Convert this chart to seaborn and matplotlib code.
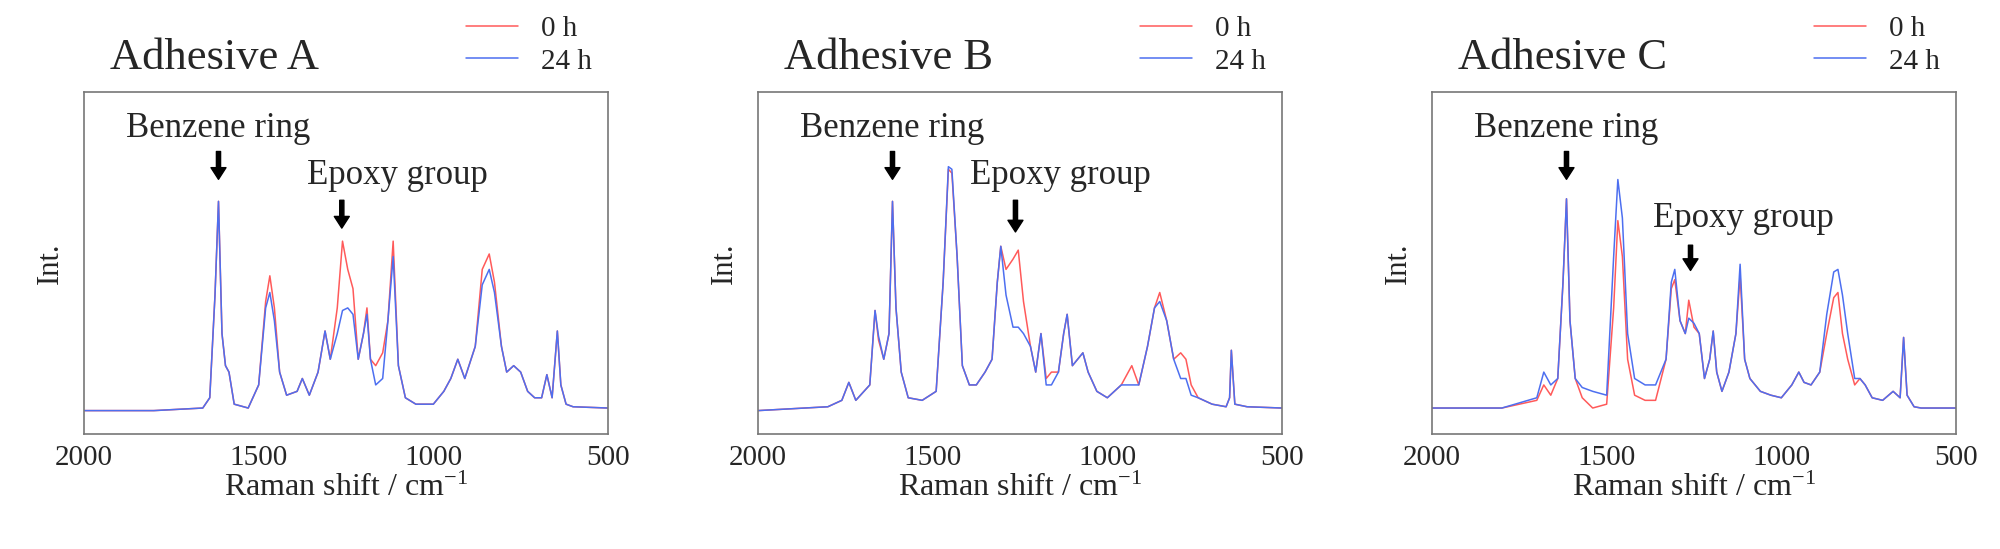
import pandas as pd
import matplotlib.pyplot as plt
import seaborn as sns

# === Data (intensity in arbitrary units) ===
shift_a = [2000, 1800, 1660, 1640, 1625, 1615, 1605, 1595, 1585, 1570, 1530, 1500, 1480, 1468, 1455, 1440,
           1420, 1390, 1375, 1355, 1330, 1310, 1295, 1275, 1260, 1245, 1230, 1215, 1200, 1190, 1180, 1165,
           1145, 1130, 1115, 1100, 1080, 1050, 1000, 970, 950, 930, 910, 880, 860, 840, 825, 805, 790, 770,
           750, 730, 710, 690, 675, 660, 645, 635, 620, 600, 500]
a_0h = [0, 0, 2, 10, 90, 163, 60, 35, 30, 5, 2, 20, 85, 105, 80, 30,
        12, 15, 25, 12, 30, 62, 40, 80, 132, 110, 95, 40, 60, 80, 40, 35,
        45, 70, 132, 35, 10, 5, 5, 15, 25, 40, 25, 50, 110, 122, 100, 50, 30, 35,
        30, 15, 10, 10, 28, 10, 62, 20, 5, 3, 2]
a_24h = [0, 0, 2, 10, 90, 163, 60, 35, 30, 5, 2, 20, 80, 92, 70, 30,
         12, 15, 25, 12, 30, 62, 40, 60, 78, 80, 75, 40, 60, 75, 40, 20,
         25, 70, 120, 35, 10, 5, 5, 15, 25, 40, 25, 50, 98, 110, 92, 50, 30, 35,
         30, 15, 10, 10, 28, 10, 62, 20, 5, 3, 2]

shift_b = [2000, 1800, 1760, 1740, 1720, 1680, 1665, 1655, 1640, 1625, 1615, 1605, 1590, 1570, 1530, 1490,
           1470, 1455, 1445, 1430, 1415, 1395, 1375, 1350, 1330, 1315, 1305, 1290, 1270, 1255, 1240, 1220,
           1205, 1190, 1175, 1160, 1140, 1125, 1115, 1100, 1085, 1070, 1055, 1030, 1000, 960, 930, 910,
           885, 865, 850, 830, 810, 790, 775, 760, 740, 700, 660, 650, 645, 635, 600, 500]
b_0h = [0, 3, 8, 22, 8, 20, 78, 55, 40, 60, 163, 80, 30, 10, 8, 15,
        100, 188, 185, 120, 35, 20, 20, 30, 40, 100, 128, 110, 118, 125, 85, 50,
        30, 60, 25, 30, 30, 60, 75, 35, 40, 45, 30, 15, 10, 20, 35, 20,
        50, 80, 92, 70, 40, 45, 40, 20, 10, 5, 3, 10, 47, 5, 3, 2]
b_24h = [0, 3, 8, 22, 8, 20, 78, 58, 40, 60, 163, 80, 30, 10, 8, 15,
         100, 190, 188, 120, 35, 20, 20, 30, 40, 100, 128, 90, 65, 65, 60, 50,
         30, 60, 20, 20, 30, 60, 75, 35, 40, 45, 30, 15, 10, 20, 20, 20,
         50, 80, 85, 70, 40, 25, 25, 12, 10, 5, 3, 10, 47, 5, 3, 2]

shift_c = [2000, 1800, 1700, 1680, 1660, 1640, 1625, 1615, 1605, 1590, 1570, 1540, 1500, 1480, 1468, 1455,
           1440, 1420, 1390, 1360, 1330, 1315, 1305, 1290, 1275, 1265, 1250, 1235, 1220, 1205, 1195, 1185,
           1170, 1150, 1130, 1118, 1105, 1090, 1060, 1030, 1000, 970, 950, 935, 915, 890, 870, 850, 838,
           825, 810, 790, 775, 760, 740, 710, 680, 660, 650, 640, 620, 600, 500]
c_0h = [2, 2, 8, 20, 12, 25, 100, 165, 70, 25, 10, 2, 5, 80, 148, 120,
        40, 12, 8, 8, 40, 95, 102, 70, 60, 86, 65, 60, 25, 40, 62, 30,
        15, 30, 60, 105, 40, 25, 15, 12, 10, 20, 30, 22, 20, 30, 60, 88, 92,
        60, 40, 20, 25, 20, 10, 8, 15, 10, 57, 12, 3, 2, 2]
c_24h = [2, 2, 10, 30, 20, 25, 100, 165, 70, 25, 18, 15, 12, 120, 180, 150,
         60, 25, 20, 20, 40, 100, 110, 70, 60, 72, 68, 60, 25, 40, 62, 30,
         15, 30, 60, 114, 40, 25, 15, 12, 10, 20, 30, 22, 20, 30, 75, 108, 110,
         90, 60, 25, 25, 20, 10, 8, 15, 10, 57, 12, 3, 2, 2]

# (arrow x, arrow tip, arrow tail, label, label x, label y)
panels = [
    ("Adhesive A", shift_a, a_0h, a_24h, [(1615, 178, 204, "Benzene ring", 1615, 220),
                                          (1262, 140, 166, "Epoxy group", 1102, 183)]),
    ("Adhesive B", shift_b, b_0h, b_24h, [(1615, 178, 204, "Benzene ring", 1615, 220),
                                          (1263, 137, 166, "Epoxy group", 1135, 183)]),
    ("Adhesive C", shift_c, c_0h, c_24h, [(1615, 178, 204, "Benzene ring", 1615, 220),
                                          (1260, 107, 131, "Epoxy group", 1110, 150)]),
]

# === Plot ===
sns.set_theme(style="white")
plt.rcParams['font.family'] = ['Liberation Serif', 'DejaVu Serif']
plt.rcParams['mathtext.fontset'] = 'custom'
plt.rcParams['mathtext.rm'] = 'Liberation Serif'
plt.rcParams['mathtext.it'] = 'Liberation Serif:italic'

fig = plt.figure(figsize=(20, 5.49), dpi=100)
lefts = [0.042, 0.379, 0.716]
red, blue = "#ff5a5a", "#4d6ff0"

for left, (title, shift, y0, y24, notes) in zip(lefts, panels):
    ax = fig.add_axes([left, 0.21, 0.262, 0.622])
    df = pd.DataFrame({"shift": shift * 2, "int": y0 + y24,
                       "time": ["0 h"] * len(shift) + ["24 h"] * len(shift)})
    sns.lineplot(data=df, x="shift", y="int", hue="time", palette=[red, blue],
                 estimator=None, sort=False, linewidth=1.1, ax=ax)
    ax.set_xlim(2000, 500)
    ax.set_ylim(-18, 248)
    ax.set_xticks([2000, 1500, 1000, 500])
    ax.set_yticks([])
    ax.tick_params(axis="x", labelsize=21, length=0, pad=8)
    ax.set_xlabel("Raman shift / cm$^{\\mathrm{-1}}$", fontsize=23, labelpad=2)
    ax.set_ylabel("Int.", fontsize=22, labelpad=14)
    for s in ax.spines.values():
        s.set_color("#777777")
        s.set_linewidth(1.2)
    ax.text(0.05, 1.1, title, transform=ax.transAxes, fontsize=32, va="center")
    for xa, tip, tail, label, xl, yl in notes:
        ax.annotate("", xy=(xa, tip), xytext=(xa, tail),
                    arrowprops=dict(arrowstyle="simple,head_width=0.9,head_length=0.7,tail_width=0.25",
                                    color="black"))
        ax.text(xl, yl, label, fontsize=25, ha="center", va="center")
    ax.legend(loc="upper right", bbox_to_anchor=(1.02, 1.3), frameon=False, fontsize=21,
              handlelength=1.8, labelspacing=0.2, title=None)

fig.savefig("out.png", dpi=100)
